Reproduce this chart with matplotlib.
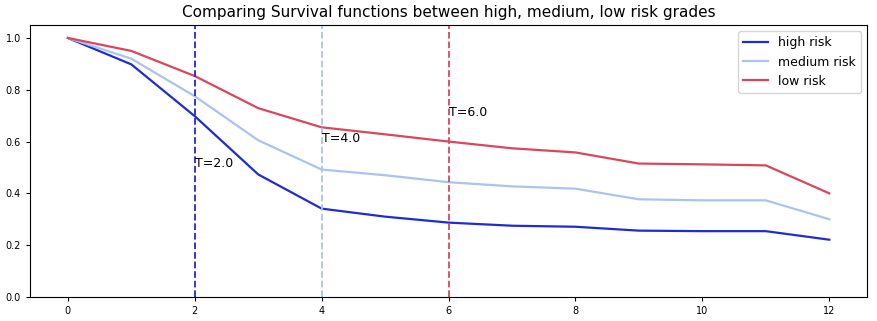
import matplotlib
matplotlib.use('Agg')
import matplotlib.pyplot as plt

t = [0, 1, 2, 3, 4, 5, 6, 7, 8, 9, 10, 11, 12]
high = [1.0, 0.898, 0.698, 0.473, 0.341, 0.31, 0.287, 0.275, 0.271, 0.256, 0.254, 0.254, 0.221]
medium = [1.0, 0.92, 0.775, 0.605, 0.492, 0.47, 0.443, 0.427, 0.418, 0.377, 0.373, 0.373, 0.30]
low = [1.0, 0.95, 0.853, 0.729, 0.655, 0.628, 0.60, 0.574, 0.558, 0.515, 0.512, 0.508, 0.40]

labels = ['high risk', 'medium risk', 'low risk']
colors = ['#1f2bd6', '#abc3ef', '#d9475d']
marks = [2.0, 4.0, 6.0]
mark_y = [0.5, 0.6, 0.7]

fig = plt.figure(figsize=(8.77, 3.21), dpi=100)
ax = fig.add_axes([0.034, 0.075, 0.955, 0.847])

for s, lab, c in zip([high, medium, low], labels, colors):
    ax.plot(t, s, color=c, lw=1.6, label=lab)

for m, my, c in zip(marks, mark_y, colors):
    ax.axvline(m, color=c, ls='--', lw=1.3)
    ax.text(m, my, 'T=%.1f' % m, fontsize=9)

ax.set_xlim(-0.6, 12.6)
ax.set_ylim(0, 1.05)
ax.set_xticks([0, 2, 4, 6, 8, 10, 12])
ax.set_yticks([0.0, 0.2, 0.4, 0.6, 0.8, 1.0])
ax.tick_params(labelsize=7, length=3)
ax.set_title('Comparing Survival functions between high, medium, low risk grades', fontsize=11)
ax.legend(loc='upper right', fontsize=9)

fig.savefig('out.png', dpi=100)
